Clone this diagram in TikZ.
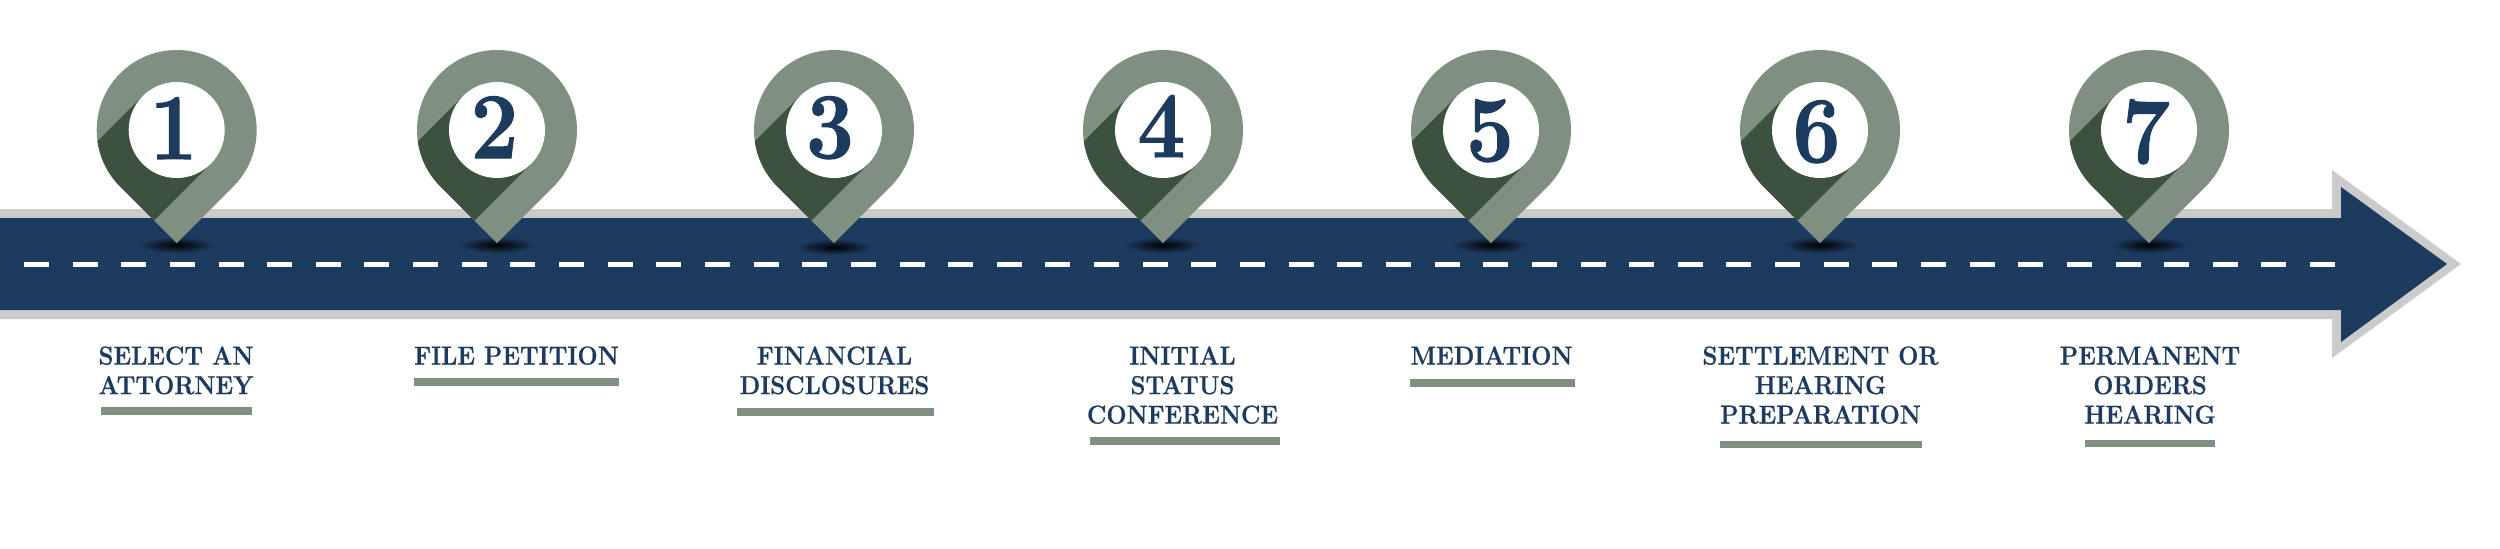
\documentclass[tikz,border=0pt]{standalone}
\usepackage{fontspec}
\newfontfamily\labelface[FakeStretch=0.92,BoldFeatures={FakeBold=0.6}]{Latin Modern Roman}
\newfontfamily\digitface[FakeStretch=0.9,BoldFeatures={FakeBold=1.2}]{Latin Modern Roman}
\definecolor{navy}{HTML}{1D3A5F}
\definecolor{sage}{HTML}{7F9080}
\definecolor{moss}{HTML}{3D513F}
\definecolor{roadedge}{HTML}{CBCBCB}
\tikzset{
  pinnum/.style={anchor=base,inner sep=0pt,text=navy,font=\digitface\fontsize{47}{47}\selectfont\bfseries},
  steplabel/.style={anchor=north,inner sep=0pt,align=center,text=navy,font=\labelface\fontsize{13}{14.75}\selectfont\bfseries},
  underbar/.style={fill=sage,draw=none}
}
% #1 name, #2 pin x, #3 digit, #4 digit x, #5 digit baseline, #6 shadow y
\newcommand{\droppin}[6]{%
  \shade[inner color=black,outer color=navy,draw=none] (#2,#6) ellipse [x radius=38,y radius=8];
  \begin{scope}[shift={(#2,130)},y=.5pt]
    \fill[sage] (-56.57,-56.57) arc[start angle=225,end angle=-45,radius=80] -- (0,-113.14) -- cycle;
    \begin{scope}
      \clip (-56.57,-56.57) arc[start angle=225,end angle=-45,radius=80] -- (0,-113.14) -- cycle;
      \fill[moss] (-34,34) -- (34,-34) -- (-86,-154) -- (-154,-86) -- cycle;
    \end{scope}
    \fill[white] (0,0) circle[radius=48];
  \end{scope}
  \node[pinnum] (#1) at (#4,#5) {#3};
}
\begin{document}
\begin{tikzpicture}[x=.5pt,y=-.5pt]
\useasboundingbox (0,0) rectangle (2500,548);
\fill[roadedge] (0,209) -- (2332,209) -- (2332,170) -- (2461,264) -- (2332,358) -- (2332,319) -- (0,319) -- cycle;
\fill[navy] (0,218) -- (2341,218) -- (2341,187) -- (2447,264) -- (2341,342) -- (2341,310) -- (0,310) -- cycle;
\draw[white,line width=2.2pt,dash pattern=on 12.5pt off 11.82pt] (24,264.5) -- (2335,264.5);

\droppin{pinA}{176.7}{1}{173.5}{159}{245}
\droppin{pinB}{497}{2}{494.5}{158}{245}
\droppin{pinC}{834}{3}{830}{158}{247}
\droppin{pinD}{1163}{4}{1161.5}{157}{245}
\droppin{pinE}{1491}{5}{1490}{161}{245}
\droppin{pinF}{1820}{6}{1816.5}{162}{245}
\droppin{pinG}{2149}{7}{2146}{163}{245}

\node[steplabel] (labA) at (176,346) {SELECT AN\\ATTORNEY};
\node[steplabel] (labB) at (516.5,346) {FILE PETITION};
\node[steplabel] (labC) at (834.5,346) {FINANCIAL\\DISCLOSURES};
\node[steplabel] (labD) at (1182.5,346) {INITIAL\\STATUS\\CONFERENCE};
\node[steplabel] (labE) at (1491.5,346) {MEDIATION};
\node[steplabel] (labF) at (1820.5,346) {SETTLEMENT OR\\HEARING\\PREPARATION};
\node[steplabel] (labG) at (2150,346) {PERMANENT\\ORDERS\\HEARING};

\fill[underbar] (100.6,407) rectangle (251.6,415);
\fill[underbar] (413.6,378) rectangle (619.4,385.5);
\fill[underbar] (736.7,407.7) rectangle (934,415.7);
\fill[underbar] (1089.8,437) rectangle (1279.8,445);
\fill[underbar] (1410,379) rectangle (1575,386.5);
\fill[underbar] (1719.5,440.5) rectangle (1922,448);
\fill[underbar] (2085,440) rectangle (2215,447);
\end{tikzpicture}
\end{document}
